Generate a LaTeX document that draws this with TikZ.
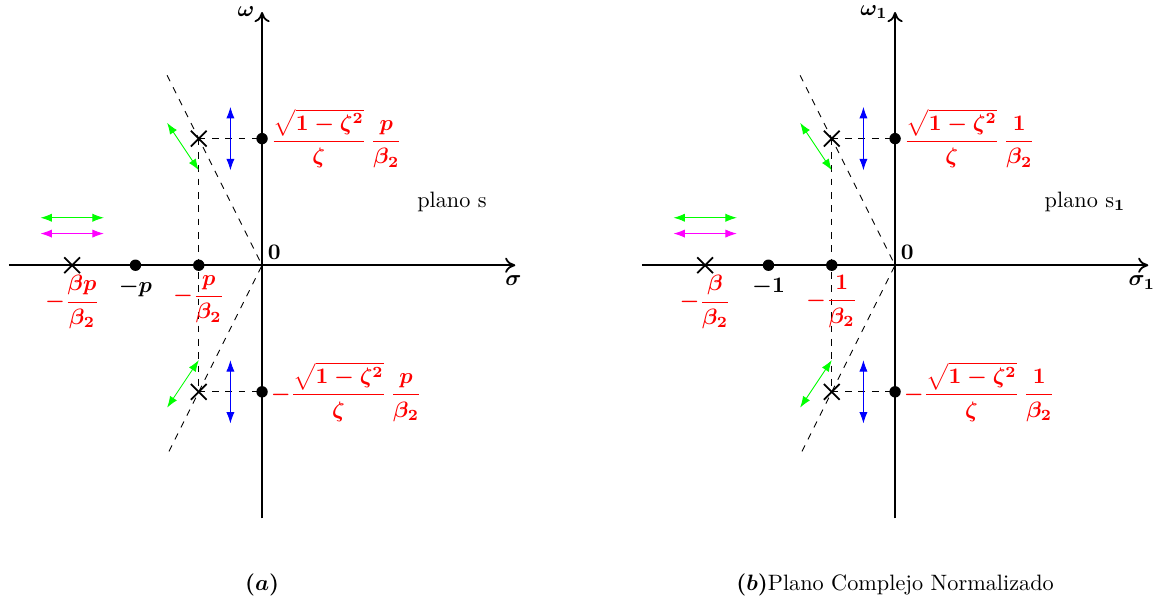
\documentclass[tikz,border=0pt]{standalone}
\usepackage{amsmath,amssymb}
\usetikzlibrary{arrows.meta,positioning,calc,shapes.misc}
\definecolor{vmag}{RGB}{255,0,255}
\definecolor{vgreen}{RGB}{0,255,0}

\begin{document}
\begin{tikzpicture}[
  axis/.style={-{To[length=1.6mm,width=2.4mm]}, line width=0.8pt},
  guide/.style={dashed, line width=0.4pt},
  polemark/.style={cross out, draw, line width=0.8pt, minimum size=2.2mm, inner sep=0pt},
  zeromark/.style={circle, fill=black, inner sep=0pt, minimum size=1.8mm},
  redlab/.style={text=red, font=\boldmath, inner sep=1pt},
  blklab/.style={font=\boldmath, inner sep=1pt},
  vmove/.style={blue, {Latex[length=1.8mm,width=1.3mm]}-{Latex[length=1.8mm,width=1.3mm]}, line width=0.4pt},
  gmove/.style={vgreen, {Latex[length=1.8mm,width=1.3mm]}-{Latex[length=1.8mm,width=1.3mm]}, line width=0.4pt},
  mmove/.style={vmag, {Latex[length=1.8mm,width=1.3mm]}-{Latex[length=1.8mm,width=1.3mm]}, line width=0.4pt}
]
  \useasboundingbox (-4.14,-5.29) rectangle (14.28,4.19);

  % ---- (a) plano s
  \coordinate (aW) at (-4,0);
  \coordinate (aE) at (4,0);
  \coordinate (aS) at (0,-4);
  \coordinate (aN) at (0,4);
  \coordinate (aO) at (0,0);
  \coordinate (aLu) at (-1.5,3);
  \coordinate (aLd) at (-1.5,-3);
  \draw[guide] (aLu) -- (aO) -- (aLd);
  \node[polemark] (aPu) at (-1,2) {};
  \node[polemark] (aPd) at (-1,-2) {};
  \node[polemark] (aPr) at (-3,0) {};
  \node[zeromark] (aZu) at (0,2) {};
  \node[zeromark] (aZd) at (0,-2) {};
  \node[zeromark] (aZp) at (-2,0) {};
  \node[zeromark] (aZc) at (-1,0) {};
  \draw[guide] (aPu.center) -- (aZu.center);
  \draw[guide] (aPd.center) -- (aZd.center);
  \draw[guide] (aPu.center) -- (aPd.center);
  \draw[axis] (aW) -- (aE) node[below=1.2mm, blklab, xshift=-0.3mm] {$\sigma$};
  \draw[axis] (aS) -- (aN) node[left, blklab, inner sep=3pt] {$\omega$};
  \node[blklab, anchor=south west] at (0.05,0.05) {$0$};
  \node[redlab, anchor=west] at (aZu.east) {$\dfrac{\sqrt{1-\zeta^2}}{\zeta}\,\dfrac{p}{\beta_2}$};
  \node[redlab, anchor=west] at (aZd.east) {$-\dfrac{\sqrt{1-\zeta^2}}{\zeta}\,\dfrac{p}{\beta_2}$};
  \node[redlab, anchor=north] at ($(aPr.center)+(0,-0.12)$) {$-\dfrac{\beta p}{\beta_2}$};
  \node[blklab, anchor=north] at ($(aZp.center)+(0,-0.17)$) {$-p$};
  \node[redlab, anchor=north] at ($(aZc.center)+(0,-0.12)$) {$-\dfrac{p}{\beta_2}$};
  \node at (3,1) {plano s};
  \draw[vmove] (-0.5,1.5) -- (-0.5,2.5);
  \draw[vmove] (-0.5,-1.5) -- (-0.5,-2.5);
  \draw[gmove] (-1.5,2.25) -- (-1,1.5);
  \draw[gmove] (-1,-1.5) -- (-1.5,-2.25);
  \draw[gmove] (-3.5,0.75) -- (-2.5,0.75);
  \draw[mmove] (-3.5,0.5) -- (-2.5,0.5);
  \node at (0,-5.05) {$\boldsymbol{(a)}$};

  % ---- (b) plano s1
  \begin{scope}[xshift=10cm]
  \coordinate (bW) at (-4,0);
  \coordinate (bE) at (4,0);
  \coordinate (bS) at (0,-4);
  \coordinate (bN) at (0,4);
  \coordinate (bO) at (0,0);
  \coordinate (bLu) at (-1.5,3);
  \coordinate (bLd) at (-1.5,-3);
  \draw[guide] (bLu) -- (bO) -- (bLd);
  \node[polemark] (bPu) at (-1,2) {};
  \node[polemark] (bPd) at (-1,-2) {};
  \node[polemark] (bPr) at (-3,0) {};
  \node[zeromark] (bZu) at (0,2) {};
  \node[zeromark] (bZd) at (0,-2) {};
  \node[zeromark] (bZp) at (-2,0) {};
  \node[zeromark] (bZc) at (-1,0) {};
  \draw[guide] (bPu.center) -- (bZu.center);
  \draw[guide] (bPd.center) -- (bZd.center);
  \draw[guide] (bPu.center) -- (bPd.center);
  \draw[axis] (bW) -- (bE) node[below=1.2mm, blklab, xshift=-1mm] {$\sigma_1$};
  \draw[axis] (bS) -- (bN) node[left, blklab, inner sep=3pt] {$\omega_1$};
  \node[blklab, anchor=south west] at (0.05,0.05) {$0$};
  \node[redlab, anchor=west] at (bZu.east) {$\dfrac{\sqrt{1-\zeta^2}}{\zeta}\,\dfrac{1}{\beta_2}$};
  \node[redlab, anchor=west] at (bZd.east) {$-\dfrac{\sqrt{1-\zeta^2}}{\zeta}\,\dfrac{1}{\beta_2}$};
  \node[redlab, anchor=north] at ($(bPr.center)+(0,-0.12)$) {$-\dfrac{\beta}{\beta_2}$};
  \node[blklab, anchor=north] at ($(bZp.center)+(0,-0.17)$) {$-1$};
  \node[redlab, anchor=north] at ($(bZc.center)+(0,-0.12)$) {$-\dfrac{1}{\beta_2}$};
  \node at (3,1) {plano s$_{\mathbf{1}}$};
  \draw[vmove] (-0.5,1.5) -- (-0.5,2.5);
  \draw[vmove] (-0.5,-1.5) -- (-0.5,-2.5);
  \draw[gmove] (-1.5,2.25) -- (-1,1.5);
  \draw[gmove] (-1,-1.5) -- (-1.5,-2.25);
  \draw[gmove] (-3.5,0.75) -- (-2.5,0.75);
  \draw[mmove] (-3.5,0.5) -- (-2.5,0.5);
  \node at (0,-5.05) {$\boldsymbol{(b)}$Plano Complejo Normalizado};
  \end{scope}
\end{tikzpicture}
\end{document}
